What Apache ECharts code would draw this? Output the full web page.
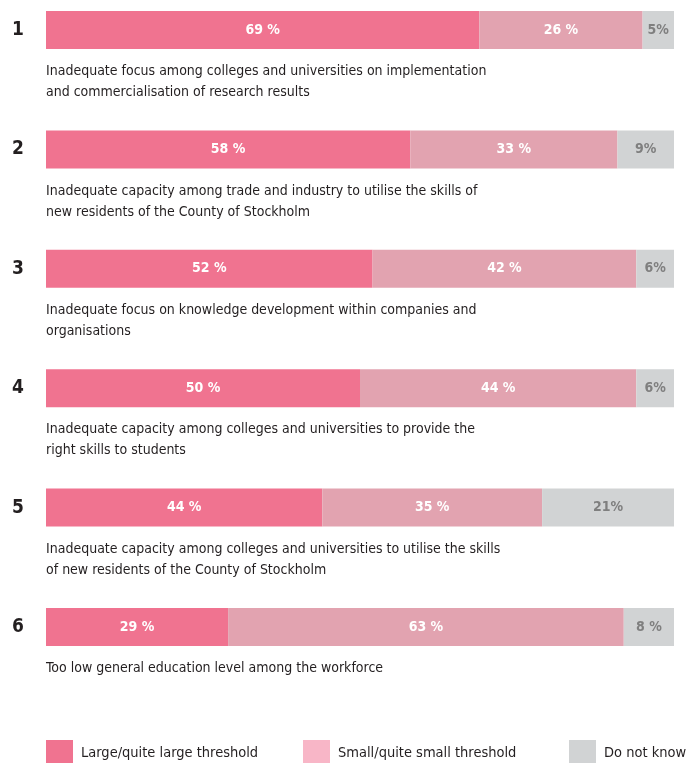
<!DOCTYPE html>
<html>
<head>
<meta charset="utf-8">
<script src="https://cdn.jsdelivr.net/npm/echarts@6/dist/echarts.min.js"></script>
<style>
  html, body { margin: 0; padding: 0; background: #ffffff; }
  #chart { width: 698px; height: 763px; }
</style>
</head>
<body>
<div id="chart"></div>
<script>
// Ranked items (top to bottom)
const ranks = ['1', '2', '3', '4', '5', '6'];
const descriptions = [
  'Inadequate focus among colleges and universities on implementation\nand commercialisation of research results',
  'Inadequate capacity among trade and industry to utilise the skills of\nnew residents of the County of Stockholm',
  'Inadequate focus on knowledge development within companies and\norganisations',
  'Inadequate capacity among colleges and universities to provide the\nright skills to students',
  'Inadequate capacity among colleges and universities to utilise the skills\nof new residents of the County of Stockholm',
  'Too low general education level among the workforce'
];

// Share of respondents (%)
const largeThreshold = [69, 58, 52, 50, 44, 29];
const smallThreshold = [26, 33, 42, 44, 35, 63];
const doNotKnow = [5, 9, 6, 6, 21, 8];
// spacing between number and % sign in the "Do not know" labels
const doNotKnowSep = ['', '', '', '', '', ' '];

const seriesNames = ['Large/quite large threshold', 'Small/quite small threshold', 'Do not know'];

const FONT = "'DejaVu Sans Condensed', 'Liberation Sans Narrow', sans-serif";
const INK = '#231f20';
const C_LARGE = '#f07390';
const C_SMALL = '#e2a3b0';
const C_SMALL_KEY = '#f8b6c7';
const C_DK = '#d1d3d4';

const chart = echarts.init(document.getElementById('chart'), null, { renderer: 'canvas' });

function barSeries(name, data, color, labelColor, fmt) {
  return {
    name: name,
    type: 'bar',
    stack: 'total',
    barWidth: 38,
    clip: false,
    data: data,
    itemStyle: { color: color },
    emphasis: { disabled: true },
    label: {
      show: true,
      position: 'inside',
      color: labelColor,
      fontFamily: FONT,
      fontWeight: 'bold',
      fontSize: 14,
      formatter: fmt
    }
  };
}

function legendAt(left, name, color) {
  return {
    left: left,
    top: 740,
    padding: 0,
    orient: 'horizontal',
    icon: 'rect',
    itemWidth: 27,
    itemHeight: 26,
    selectedMode: false,
    data: [{ name: name, itemStyle: { color: color } }],
    textStyle: { fontFamily: FONT, fontSize: 14.5, color: INK, padding: [4, 0, 0, 3] }
  };
}

chart.setOption({
  animation: false,
  backgroundColor: '#ffffff',
  grid: { left: 46, right: 24, top: 30, bottom: 136, containLabel: false },
  xAxis: { type: 'value', min: 0, max: 100, show: false },
  yAxis: [
    {
      type: 'category',
      data: ranks,
      inverse: true,
      boundaryGap: false,
      axisLine: { show: false },
      axisTick: { show: false },
      splitLine: { show: false },
      axisLabel: {
        interval: 0,
        margin: 28,
        align: 'center',
        fontFamily: FONT,
        fontWeight: 'bold',
        fontSize: 19,
        color: INK
      }
    },
    {
      type: 'category',
      data: descriptions,
      inverse: true,
      boundaryGap: false,
      position: 'left',
      axisLine: { show: false },
      axisTick: { show: false },
      splitLine: { show: false },
      axisLabel: {
        interval: 0,
        margin: 0,
        align: 'left',
        verticalAlign: 'top',
        lineHeight: 21,
        padding: [31, 0, 0, 0],
        fontFamily: FONT,
        fontSize: 14,
        color: INK
      }
    }
  ],
  legend: [
    legendAt(46, seriesNames[0], C_LARGE),
    legendAt(303, seriesNames[1], C_SMALL_KEY),
    legendAt(569, seriesNames[2], C_DK)
  ],
  series: [
    barSeries(seriesNames[0], largeThreshold, C_LARGE, '#ffffff', p => p.value + ' %'),
    barSeries(seriesNames[1], smallThreshold, C_SMALL, '#ffffff', p => p.value + ' %'),
    barSeries(seriesNames[2], doNotKnow, C_DK, '#7f7f7f', p => p.value + doNotKnowSep[p.dataIndex] + '%')
  ]
});
</script>
</body>
</html>
